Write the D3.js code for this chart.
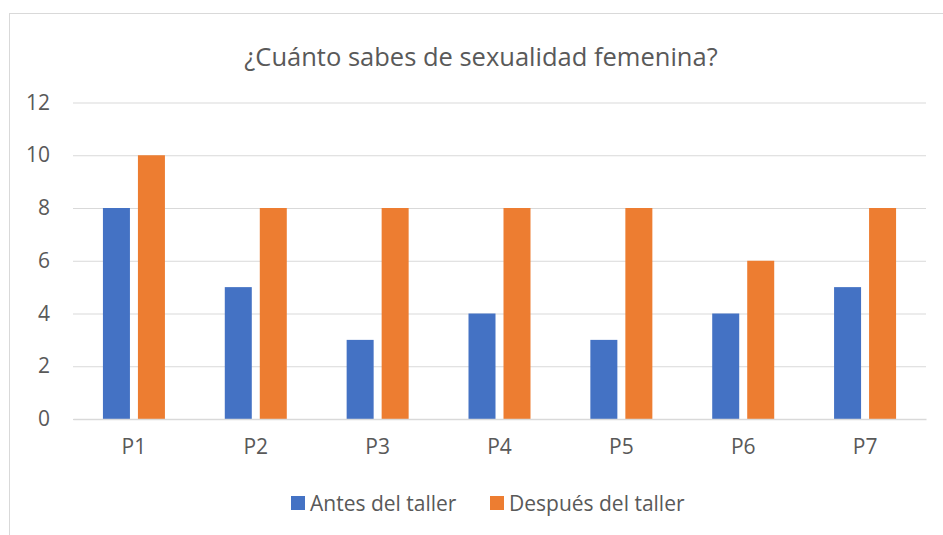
<!DOCTYPE html>
<html>
<head>
<meta charset="utf-8">
<script src="https://cdn.jsdelivr.net/npm/d3@7"></script>
<style>
  body { margin: 0; background: #fff; }
  svg { display: block; font-family: "Open Sans", sans-serif; }
</style>
</head>
<body>
<svg></svg>
<script>
const categories = ["P1", "P2", "P3", "P4", "P5", "P6", "P7"]
const antes = [8, 5, 3, 4, 3, 4, 5]
const despues = [10, 8, 8, 8, 8, 6, 8]
const seriesNames = ["Antes del taller", "Después del taller"]
const colors = ["#4472C4", "#ED7D31"]
const yTicks = [0, 2, 4, 6, 8, 10, 12]

const svg = d3.select("svg")
  .attr("width", 943)
  .attr("height", 535)

// chart frame
svg.append("rect")
  .attr("x", 9.5)
  .attr("y", 13.5)
  .attr("width", 960)
  .attr("height", 560)
  .attr("fill", "#fff")
  .attr("stroke", "#d9d9d9")

svg.append("text")
  .attr("x", 481)
  .attr("y", 66)
  .attr("text-anchor", "middle")
  .attr("fill", "#595959")
  .attr("font-size", 25.5)
  .text("¿Cuánto sabes de sexualidad femenina?")

const scaleX = d3.scaleBand()
  .domain(categories)
  .range([73, 926])

const scaleY = d3.scaleLinear()
  .domain([0, 12])
  .range([419, 102.5])

const axisY = d3.axisLeft(scaleY)
  .tickValues(yTicks)
  .tickSizeInner(-(926 - 73))
  .tickSizeOuter(0)
  .tickPadding(23)

const axisYGroup = svg.append("g")
  .attr("transform", "translate(73, 0)")
  .call(axisY)
  .attr("font-size", 21)
  .attr("font-family", "Open Sans")

axisYGroup.select(".domain").remove()
axisYGroup.selectAll(".tick line").attr("stroke", "#d9d9d9")
axisYGroup.selectAll(".tick text").attr("fill", "#595959")

const axisX = d3.axisBottom(scaleX)
  .tickSize(0)
  .tickPadding(20)

const axisXGroup = svg.append("g")
  .attr("transform", "translate(0, 419)")
  .call(axisX)
  .attr("font-size", 21)
  .attr("font-family", "Open Sans")

axisXGroup.select(".domain").attr("stroke", "#d9d9d9").attr("stroke-width", 1.5)
axisXGroup.selectAll(".tick text").attr("fill", "#595959")

const barW = 27
const gap = 8
const rows = categories.map((c, i) => ({ cat: c, values: [antes[i], despues[i]] }))

const groups = svg.selectAll("g.cat")
  .data(rows)
  .enter()
  .append("g")
  .attr("class", "cat")
  .attr("transform", d => `translate(${scaleX(d.cat) + scaleX.bandwidth() / 2}, 0)`)

groups.selectAll("rect")
  .data(d => d.values)
  .enter()
  .append("rect")
  .attr("x", (d, i) => i === 0 ? -gap / 2 - barW : gap / 2)
  .attr("y", d => scaleY(d))
  .attr("width", barW)
  .attr("height", d => scaleY(0) - scaleY(d))
  .attr("fill", (d, i) => colors[i])

axisXGroup.raise()

// legend
const legendX = [291, 490]
const legend = svg.selectAll("g.legend")
  .data(seriesNames)
  .enter()
  .append("g")
  .attr("class", "legend")
  .attr("transform", (d, i) => `translate(${legendX[i]}, 496)`)

legend.append("rect")
  .attr("width", 14)
  .attr("height", 14)
  .attr("fill", (d, i) => colors[i])

legend.append("text")
  .attr("x", 19)
  .attr("y", 14.5)
  .attr("fill", "#595959")
  .attr("font-size", 21)
  .text(d => d)
</script>
</body>
</html>
